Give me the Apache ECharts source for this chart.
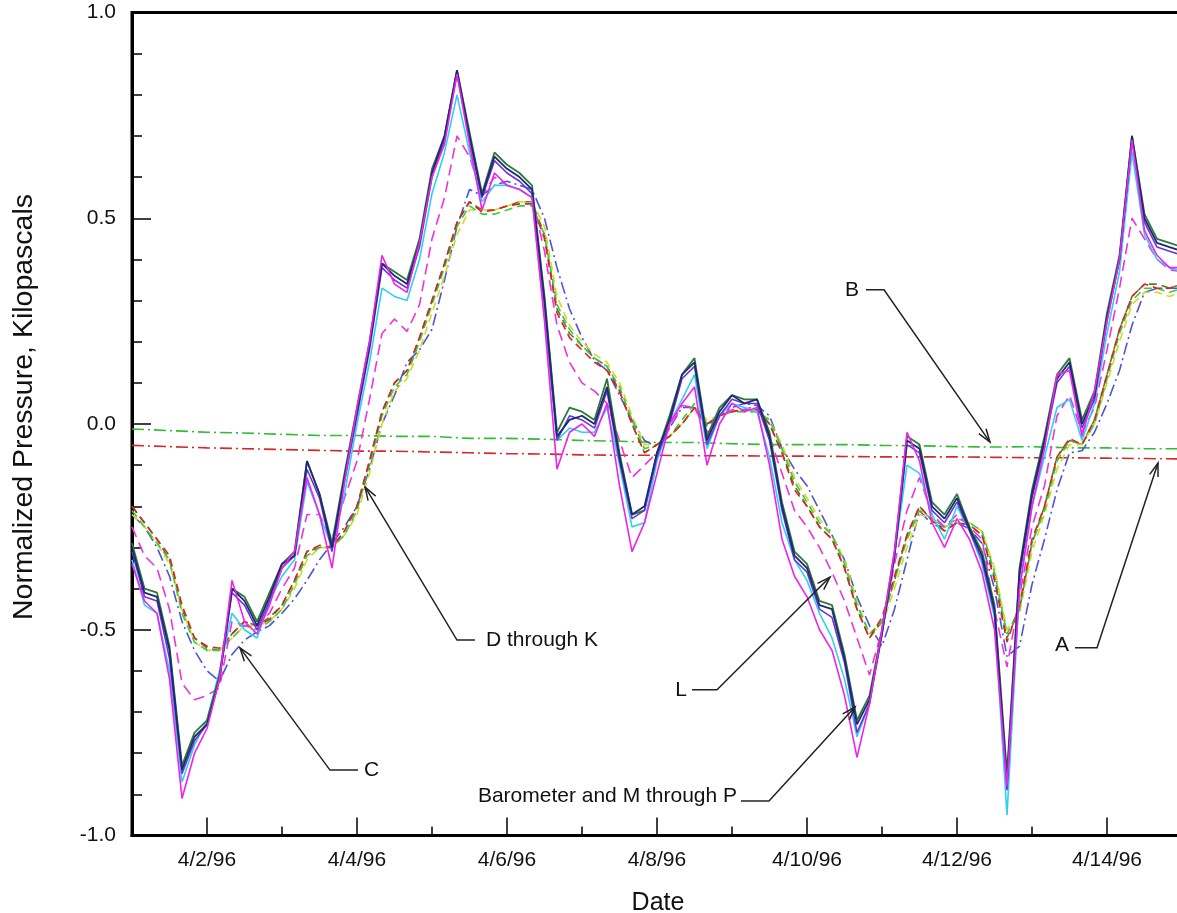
<!DOCTYPE html>
<html><head><meta charset="utf-8">
<script src="https://cdn.jsdelivr.net/npm/echarts@6/dist/echarts.min.js"></script>
<style>html,body{margin:0;padding:0;background:#fff}#c{width:1177px;height:913px}</style>
</head><body><div id="c"></div>
<script>
// x values are days since 4/1/96 00:00; series sampled every 4 hours
const sampleCount = 85;
const tDays = []; for (let i = 0; i < sampleCount; i++) tDays.push(i / 6);
const abDays = [0,0.5,1,1.5,2,2.5,3,3.5,4,4.5,5,5.5,6,6.5,7,7.5,8,8.5,9,9.5,10,10.5,11,11.5,12,12.5,13,13.5,14];

const majorTickDays = [1,3,5,7,9,11,13];
const majorTickLabels = ['4/2/96','4/4/96','4/6/96','4/8/96','4/10/96','4/12/96','4/14/96'];
const minorTickDays = [2,4,6,8,10,12];

// Barometer and M through P (solid)
const barometer = [-0.30,-0.41,-0.42,-0.55,-0.84,-0.76,-0.73,-0.62,-0.40,-0.43,
 -0.49,-0.42,-0.34,-0.32,-0.09,-0.17,-0.30,-0.13,0.03,0.19,
 0.39,0.36,0.34,0.44,0.61,0.70,0.86,0.70,0.555,0.65,
 0.62,0.60,0.57,0.30,-0.03,0.01,0.02,0.00,0.09,-0.08,
 -0.22,-0.20,-0.07,0.01,0.12,0.15,-0.04,0.03,0.07,0.05,
 0.06,-0.03,-0.20,-0.32,-0.35,-0.44,-0.45,-0.57,-0.73,-0.67,
 -0.51,-0.32,-0.04,-0.06,-0.20,-0.23,-0.18,-0.255,-0.32,-0.45,
 -0.87,-0.36,-0.17,-0.04,0.11,0.15,0.00,0.07,0.26,0.40,
 0.70,0.50,0.44,0.43,0.42];
const wellM = [-0.29,-0.40,-0.41,-0.54,-0.83,-0.75,-0.72,-0.61,-0.40,-0.42,
 -0.48,-0.41,-0.34,-0.31,-0.09,-0.17,-0.29,-0.12,0.04,0.20,
 0.39,0.37,0.35,0.45,0.62,0.70,0.86,0.71,0.56,0.66,
 0.63,0.61,0.58,0.31,-0.02,0.04,0.03,0.01,0.11,-0.07,
 -0.22,-0.21,-0.07,0.02,0.12,0.16,-0.03,0.04,0.07,0.06,
 0.06,-0.02,-0.19,-0.31,-0.34,-0.43,-0.44,-0.56,-0.72,-0.66,
 -0.50,-0.31,-0.03,-0.05,-0.19,-0.22,-0.17,-0.25,-0.31,-0.44,
 -0.85,-0.35,-0.16,-0.03,0.12,0.16,0.01,0.08,0.27,0.41,
 0.70,0.51,0.45,0.44,0.43];
const wellN = [-0.31,-0.42,-0.43,-0.57,-0.85,-0.77,-0.73,-0.62,-0.41,-0.44,
 -0.50,-0.43,-0.35,-0.32,-0.11,-0.18,-0.31,-0.14,0.02,0.18,
 0.38,0.35,0.33,0.43,0.60,0.69,0.85,0.69,0.55,0.64,
 0.61,0.59,0.56,0.29,-0.04,0.02,0.01,-0.01,0.08,-0.09,
 -0.23,-0.21,-0.08,0.00,0.11,0.14,-0.05,0.02,0.06,0.05,
 0.05,-0.04,-0.21,-0.33,-0.36,-0.45,-0.47,-0.58,-0.75,-0.68,
 -0.51,-0.32,-0.05,-0.07,-0.21,-0.24,-0.19,-0.26,-0.33,-0.46,
 -0.89,-0.37,-0.18,-0.05,0.10,0.14,-0.01,0.06,0.25,0.40,
 0.69,0.49,0.43,0.42,0.41];
const wellO = [-0.33,-0.44,-0.46,-0.60,-0.87,-0.78,-0.72,-0.60,-0.46,-0.50,
 -0.52,-0.43,-0.37,-0.33,-0.14,-0.22,-0.30,-0.17,0.00,0.15,
 0.33,0.31,0.30,0.40,0.56,0.66,0.80,0.66,0.54,0.58,
 0.58,0.57,0.55,0.26,-0.04,-0.01,-0.02,-0.02,0.04,-0.10,
 -0.25,-0.24,-0.09,0.00,0.06,0.12,-0.06,0.02,0.05,0.04,
 0.03,-0.08,-0.24,-0.33,-0.38,-0.46,-0.52,-0.62,-0.76,-0.68,
 -0.50,-0.32,-0.10,-0.12,-0.22,-0.28,-0.20,-0.26,-0.34,-0.47,
 -0.95,-0.40,-0.20,-0.08,0.04,0.06,-0.04,0.05,0.22,0.37,
 0.66,0.46,0.40,0.38,0.37];
const wellP = [-0.34,-0.43,-0.46,-0.62,-0.91,-0.80,-0.74,-0.62,-0.38,-0.48,
 -0.51,-0.44,-0.35,-0.31,-0.13,-0.22,-0.35,-0.14,0.04,0.20,
 0.41,0.34,0.32,0.44,0.60,0.68,0.85,0.68,0.52,0.61,
 0.58,0.57,0.55,0.25,-0.11,-0.02,0.00,-0.03,0.05,-0.15,
 -0.31,-0.24,-0.12,0.00,0.05,0.09,-0.10,0.00,0.05,0.03,
 0.04,-0.10,-0.28,-0.37,-0.42,-0.50,-0.55,-0.66,-0.81,-0.68,
 -0.50,-0.31,-0.02,-0.09,-0.24,-0.30,-0.23,-0.28,-0.36,-0.50,
 -0.88,-0.40,-0.20,-0.06,0.12,0.13,-0.03,0.08,0.25,0.40,
 0.69,0.47,0.41,0.38,0.38];
// L (dashed magenta)
const wellL = [-0.25,-0.32,-0.35,-0.45,-0.63,-0.67,-0.66,-0.64,-0.48,-0.49,
 -0.49,-0.46,-0.40,-0.35,-0.22,-0.22,-0.28,-0.18,-0.09,0.06,
 0.22,0.255,0.225,0.29,0.45,0.55,0.70,0.65,0.555,0.60,
 0.58,0.57,0.55,0.42,0.24,0.15,0.10,0.08,0.05,-0.04,
 -0.13,-0.10,-0.07,-0.01,0.045,0.04,-0.02,0.015,0.035,0.035,
 0.045,-0.03,-0.12,-0.21,-0.25,-0.30,-0.36,-0.43,-0.52,-0.61,
 -0.50,-0.34,-0.21,-0.13,-0.22,-0.25,-0.22,-0.25,-0.28,-0.45,
 -0.59,-0.42,-0.25,-0.15,0.02,0.07,-0.02,0.04,0.18,0.33,
 0.50,0.45,0.40,0.375,0.37];
// D through K (dashed)
const wellD = [-0.20,-0.24,-0.28,-0.32,-0.44,-0.52,-0.54,-0.545,-0.51,-0.48,
 -0.49,-0.475,-0.44,-0.38,-0.31,-0.295,-0.30,-0.26,-0.20,-0.09,
 0.03,0.10,0.13,0.21,0.30,0.39,0.49,0.54,0.515,0.52,
 0.53,0.535,0.535,0.45,0.27,0.21,0.18,0.15,0.13,0.08,
 0.00,-0.07,-0.05,-0.03,0.00,0.04,0.00,0.02,0.03,0.035,
 0.035,0.00,-0.07,-0.16,-0.20,-0.25,-0.28,-0.35,-0.45,-0.52,
 -0.47,-0.37,-0.27,-0.20,-0.235,-0.26,-0.24,-0.245,-0.27,-0.38,
 -0.53,-0.44,-0.28,-0.20,-0.08,-0.035,-0.05,0.01,0.12,0.23,
 0.31,0.34,0.33,0.33,0.34];
const wellE = [-0.21,-0.25,-0.29,-0.33,-0.46,-0.53,-0.55,-0.55,-0.52,-0.49,
 -0.50,-0.48,-0.45,-0.39,-0.32,-0.30,-0.30,-0.27,-0.21,-0.10,
 0.02,0.09,0.12,0.20,0.29,0.38,0.48,0.53,0.51,0.51,
 0.52,0.53,0.53,0.46,0.29,0.23,0.19,0.16,0.14,0.09,
 0.01,-0.06,-0.05,-0.03,0.01,0.05,0.00,0.02,0.03,0.03,
 0.03,0.01,-0.06,-0.14,-0.19,-0.24,-0.27,-0.34,-0.44,-0.51,
 -0.48,-0.38,-0.28,-0.21,-0.23,-0.25,-0.23,-0.24,-0.26,-0.36,
 -0.51,-0.45,-0.29,-0.21,-0.09,-0.04,-0.05,0.00,0.11,0.22,
 0.30,0.33,0.33,0.32,0.33];
const wellF = [-0.22,-0.25,-0.29,-0.34,-0.45,-0.53,-0.55,-0.55,-0.52,-0.49,
 -0.49,-0.48,-0.45,-0.40,-0.33,-0.30,-0.30,-0.27,-0.22,-0.12,
 0.00,0.08,0.11,0.18,0.27,0.36,0.46,0.52,0.52,0.52,
 0.53,0.54,0.54,0.48,0.31,0.24,0.20,0.17,0.15,0.10,
 0.02,-0.05,-0.05,-0.03,0.00,0.04,0.01,0.02,0.03,0.03,
 0.03,0.01,-0.05,-0.13,-0.18,-0.23,-0.27,-0.33,-0.43,-0.51,
 -0.49,-0.40,-0.30,-0.22,-0.23,-0.25,-0.24,-0.24,-0.26,-0.35,
 -0.50,-0.46,-0.31,-0.22,-0.11,-0.05,-0.05,0.00,0.10,0.20,
 0.29,0.32,0.32,0.31,0.32];
const wellG = [-0.20,-0.24,-0.28,-0.33,-0.45,-0.52,-0.545,-0.55,-0.51,-0.48,
 -0.49,-0.47,-0.44,-0.38,-0.31,-0.30,-0.30,-0.26,-0.20,-0.09,
 0.03,0.10,0.13,0.21,0.30,0.39,0.49,0.54,0.52,0.52,
 0.53,0.54,0.54,0.46,0.28,0.22,0.19,0.16,0.14,0.08,
 0.00,-0.07,-0.05,-0.03,0.00,0.04,0.00,0.02,0.03,0.035,
 0.035,0.00,-0.07,-0.15,-0.20,-0.25,-0.28,-0.35,-0.45,-0.52,
 -0.48,-0.38,-0.27,-0.20,-0.235,-0.26,-0.24,-0.245,-0.27,-0.37,
 -0.52,-0.45,-0.29,-0.20,-0.08,-0.04,-0.05,0.01,0.12,0.23,
 0.31,0.34,0.34,0.33,0.34];
// C (blue dash-dot)
const wellC = [-0.22,-0.25,-0.30,-0.37,-0.48,-0.55,-0.60,-0.625,-0.56,-0.525,
 -0.505,-0.49,-0.46,-0.425,-0.38,-0.33,-0.29,-0.25,-0.20,-0.11,
 0.00,0.07,0.15,0.18,0.23,0.35,0.48,0.57,0.555,0.58,
 0.59,0.58,0.57,0.50,0.38,0.28,0.21,0.155,0.13,0.07,
 0.01,-0.04,-0.055,-0.01,0.04,0.04,-0.005,0.02,0.04,0.05,
 0.045,0.02,-0.06,-0.11,-0.15,-0.21,-0.27,-0.33,-0.42,-0.49,
 -0.54,-0.45,-0.33,-0.21,-0.245,-0.25,-0.24,-0.255,-0.29,-0.40,
 -0.565,-0.54,-0.39,-0.28,-0.16,-0.07,-0.065,-0.02,0.05,0.13,
 0.24,0.32,0.33,0.33,0.33];
// A (red dash-dot) and B (green dash-dot), every 12 hours
const wellA = [-0.052,-0.055,-0.058,-0.060,-0.062,-0.064,-0.066,-0.066,-0.068,-0.070,
 -0.072,-0.073,-0.075,-0.076,-0.076,-0.077,-0.077,-0.078,-0.078,-0.079,
 -0.080,-0.080,-0.080,-0.081,-0.082,-0.082,-0.083,-0.084,-0.085];
const wellB = [-0.012,-0.016,-0.020,-0.022,-0.025,-0.028,-0.028,-0.030,-0.030,-0.035,
 -0.035,-0.037,-0.040,-0.042,-0.045,-0.045,-0.048,-0.050,-0.050,-0.050,
 -0.052,-0.053,-0.055,-0.056,-0.055,-0.058,-0.058,-0.060,-0.060];

// annotations: label, text anchor [day, value], alignment, leader [start, elbow, tip]
const annoLabels = ['D through K','C','L','Barometer and M through P','B','A'];
const annoTextPos = [[4.72,-0.525],[3.093,-0.841],[7.40,-0.646],[8.067,-0.904],[9.693,0.326],[12.493,-0.537]];
const annoAlign = ['left','left','right','right','right','right'];
const annoLeaders = [
  [[4.573,-0.525],[4.333,-0.525],[3.107,-0.153]],
  [[3.013,-0.841],[2.64,-0.841],[1.44,-0.544]],
  [[7.467,-0.646],[7.8,-0.646],[9.307,-0.372]],
  [[8.12,-0.916],[8.493,-0.916],[9.64,-0.688]],
  [[9.787,0.326],[10.027,0.326],[11.44,-0.044]],
  [[12.573,-0.544],[12.867,-0.544],[13.68,-0.095]]
];

const FONT = '"Liberation Sans", Arial, Helvetica, sans-serif';
const DASH = [8,5], LDASH = [11,6], DASHDOT = [12,4,2,4];

function line(name, xs, vals, color, type, width, z) {
  return {
    name, type: 'line', symbol: 'none', animation: false, silent: true, z: z || 2,
    data: vals.map((v, i) => [xs[i], v]),
    lineStyle: { color, width: width || 1.6, type: type || 'solid' }
  };
}

const chart = echarts.init(document.getElementById('c'), null, { renderer: 'canvas' });
const plotWidth = 1052;          // extends past the right edge of the page, as in the source
const xMax = plotWidth / 75;     // 75 px per day
const option = {
  backgroundColor: '#fff',
  animation: false,
  grid: { left: 132, width: plotWidth, top: 12.5, bottom: 77.5, outerBoundsMode: 'none', containLabel: false,
    show: true, borderColor: '#000', borderWidth: 3 },
  xAxis: [
    {
      type: 'value', min: 0, max: xMax, position: 'bottom',
      name: 'Date', nameLocation: 'middle', nameGap: 55,
      nameTextStyle: { fontFamily: FONT, fontSize: 25, color: '#111' },
      axisLine: { show: true, onZero: false, lineStyle: { color: '#000', width: 3 } },
      axisTick: { show: true, inside: true, length: 18, customValues: majorTickDays, lineStyle: { color: '#000', width: 1.5 } },
      axisLabel: { customValues: majorTickDays, margin: 14, fontFamily: FONT, fontSize: 21, color: '#111',
        formatter: v => majorTickLabels[majorTickDays.indexOf(Math.round(v))] || '' },
      splitLine: { show: false }
    },
    {
      type: 'value', min: 0, max: xMax, position: 'bottom',
      axisLine: { show: false, onZero: false },
      axisTick: { show: true, inside: true, length: 9, customValues: minorTickDays, lineStyle: { color: '#000', width: 1.5 } },
      axisLabel: { show: false },
      splitLine: { show: false }
    }
  ],
  yAxis: {
    type: 'value', min: -1, max: 1, interval: 0.5,
    name: 'Normalized Pressure, Kilopascals', nameLocation: 'middle', nameGap: 93, nameRotate: 90,
    nameTextStyle: { fontFamily: FONT, fontSize: 28.5, color: '#111', padding: [0, 0, 0, 34] },
    axisLine: { show: true, onZero: false, lineStyle: { color: '#000', width: 3 } },
    axisTick: { show: true, inside: true, length: 19, lineStyle: { color: '#000', width: 1.5 } },
    minorTick: { show: true, splitNumber: 5, length: 10, lineStyle: { color: '#000', width: 1.5 } },
    axisLabel: { margin: 16, fontFamily: FONT, fontSize: 21, color: '#111', formatter: v => v.toFixed(1) },
    splitLine: { show: false }, minorSplitLine: { show: false }
  },
  series: [
    line('B', abDays, wellB, '#33bb33', DASHDOT, 1.6),
    line('A', abDays, wellA, '#d42a2a', DASHDOT, 1.6),
    line('C', tDays, wellC, '#4a55d8', DASHDOT, 1.6),
    line('G', tDays, wellG, '#5a7a2a', DASH, 1.6),
    line('F', tDays, wellF, '#d8d820', DASH, 1.6),
    line('E', tDays, wellE, '#33cc44', DASH, 1.6),
    line('D', tDays, wellD, '#dd2222', DASH, 1.6),
    line('L', tDays, wellL, '#ee33dd', LDASH, 1.6),
    line('O', tDays, wellO, '#30d0ee', 'solid', 1.6, 3),
    line('M', tDays, wellM, '#2d7a3a', 'solid', 1.8, 3),
    line('N', tDays, wellN, '#6a35e0', 'solid', 1.6, 3),
    line('Barometer', tDays, barometer, '#1e2a6e', 'solid', 1.8, 3),
    line('P', tDays, wellP, '#ee22ee', 'solid', 1.6, 3),
    {
      type: 'custom', name: 'annotations', animation: false, silent: true, z: 10, clip: false,
      data: annoLabels.map((s, i) => [annoTextPos[i][0], annoTextPos[i][1]]),
      renderItem: function (params, api) {
        const i = params.dataIndex;
        const pts = annoLeaders[i].map(p => api.coord(p));
        const tip = pts[2], prev = pts[1];
        const ang = Math.atan2(tip[1] - prev[1], tip[0] - prev[0]);
        const L = 14, spread = 0.32;
        const a1 = [tip[0] - L * Math.cos(ang - spread), tip[1] - L * Math.sin(ang - spread)];
        const a2 = [tip[0] - L * Math.cos(ang + spread), tip[1] - L * Math.sin(ang + spread)];
        const tp = api.coord(annoTextPos[i]);
        return {
          type: 'group',
          children: [
            { type: 'polyline', shape: { points: pts }, style: { stroke: '#222', lineWidth: 1.5, fill: null } },
            { type: 'polyline', shape: { points: [a1, tip, a2] }, style: { stroke: '#222', lineWidth: 1.5, fill: null } },
            { type: 'text', x: tp[0], y: tp[1], style: { text: annoLabels[i], fill: '#111', font: '21px ' + FONT,
              align: annoAlign[i], verticalAlign: 'middle' } }
          ]
        };
      }
    }
  ]
};
chart.setOption(option);
</script>
</body></html>
